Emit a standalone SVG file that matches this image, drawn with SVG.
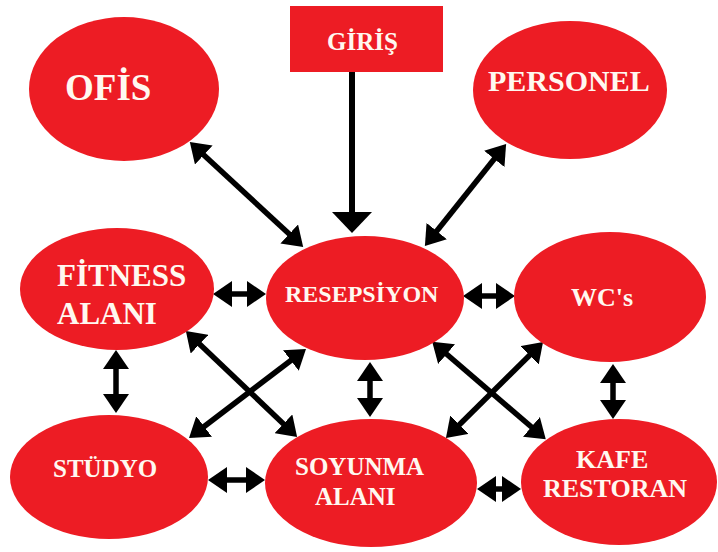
<svg xmlns="http://www.w3.org/2000/svg" width="718" height="552" viewBox="0 0 718 552">
<style>
.node{fill:#ED1C24;}
text{font-family:'Liberation Serif','DejaVu Serif',serif;font-weight:700;fill:#FFF8F0;}
.con line{stroke:#000;stroke-width:5.5;fill:none;marker-start:url(#ah);marker-end:url(#ah);}
.con line.in{stroke-width:6;marker-start:none;marker-end:url(#big);}
</style>
<defs>
<marker id="ah" viewBox="0 0 19 26" refX="14" refY="13" markerWidth="19" markerHeight="26" markerUnits="userSpaceOnUse" orient="auto-start-reverse">
<path d="M0,0 L19,13 L0,26 Z" fill="#000"/>
</marker>
<marker id="big" viewBox="0 0 21 40" refX="17" refY="20" markerWidth="21" markerHeight="40" markerUnits="userSpaceOnUse" orient="auto">
<path d="M0,0 L21,20 L0,40 Z" fill="#000"/>
</marker>
</defs>
<rect width="718" height="552" fill="#fff"/>
<g id="connectors" class="con">
<line class="in" x1="352" y1="72" x2="352" y2="229"/>
<line x1="193.5" y1="145.5" x2="299.5" y2="243.5"/>
<line x1="503" y1="148" x2="428" y2="242"/>
<line x1="218" y1="294" x2="261" y2="294"/>
<line x1="468" y1="296" x2="510" y2="296"/>
<line x1="116" y1="355" x2="116" y2="408"/>
<line x1="370" y1="367" x2="370" y2="412"/>
<line x1="613" y1="369" x2="613" y2="414"/>
<line x1="213" y1="480" x2="260" y2="480"/>
<line x1="482" y1="489" x2="516" y2="489"/>
<line x1="189.5" y1="334.5" x2="293.5" y2="433.5"/>
<line x1="193" y1="435" x2="302" y2="352"/>
<line x1="436" y1="345" x2="542" y2="436"/>
<line x1="449.5" y1="434.5" x2="539.5" y2="345.5"/>
</g>
<g id="giris">
<rect class="node" x="290" y="6" width="153" height="66"/>
<text x="327" y="50" font-size="25">GİRİŞ</text>
</g>
<g id="ofis">
<ellipse class="node" cx="124" cy="89" rx="95" ry="72"/>
<text x="65" y="100" font-size="37">OFİS</text>
</g>
<g id="personel">
<ellipse class="node" cx="570" cy="90" rx="97" ry="69"/>
<text x="488" y="91" font-size="30">PERSONEL</text>
</g>
<g id="fitness">
<ellipse class="node" cx="117" cy="289" rx="97" ry="61"/>
<text x="57" y="286" font-size="31">FİTNESS</text>
<text x="57" y="324" font-size="31">ALANI</text>
</g>
<g id="resepsiyon">
<ellipse class="node" cx="365" cy="298" rx="99" ry="62"/>
<text x="285" y="302" font-size="24">RESEPSİYON</text>
</g>
<g id="wcs">
<ellipse class="node" cx="610" cy="297" rx="96" ry="65"/>
<text x="571" y="306" font-size="26">WC's</text>
</g>
<g id="studyo">
<ellipse class="node" cx="109" cy="477" rx="99" ry="62"/>
<text x="53" y="477" font-size="25">STÜDYO</text>
</g>
<g id="soyunma">
<ellipse class="node" cx="371" cy="483" rx="106" ry="64"/>
<text x="295" y="475" font-size="25">SOYUNMA</text>
<text x="315" y="505" font-size="25">ALANI</text>
</g>
<g id="kafe">
<ellipse class="node" cx="619" cy="482" rx="98" ry="63"/>
<text x="576" y="468" font-size="26">KAFE</text>
<text x="543" y="497" font-size="26">RESTORAN</text>
</g>
</svg>
